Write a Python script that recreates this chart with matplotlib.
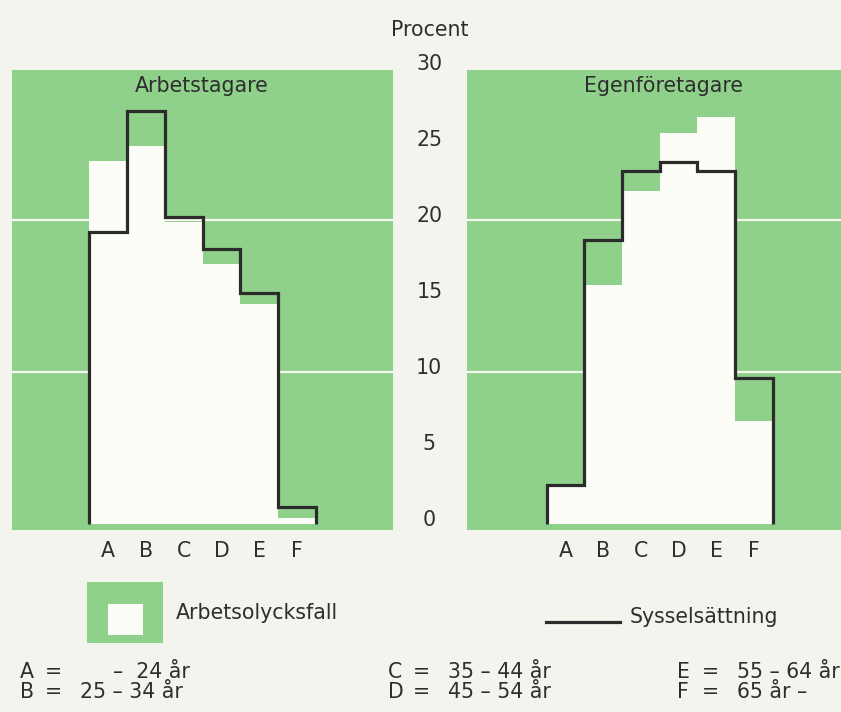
import matplotlib
matplotlib.use("Agg")
import matplotlib.pyplot as plt
import numpy as np
from matplotlib.patches import Rectangle
from matplotlib.lines import Line2D

categories = ["A", "B", "C", "D", "E", "F"]
# Arbetstagare
arb_syssel = [19.2, 27.2, 20.2, 18.1, 15.2, 1.1]     # Sysselsättning (line)
arb_olycks = [23.9, 24.9, 19.9, 17.1, 14.5, 0.4]     # Arbetsolycksfall (white area)
# Egenföretagare
egen_syssel = [2.6, 18.7, 23.2, 23.8, 23.2, 9.6]
egen_olycks = [2.5, 15.7, 21.9, 25.7, 26.8, 6.8]
yticks = [0, 5, 10, 15, 20, 25, 30]
key_rows = [("A", "–  24 år"), ("B", "25 – 34 år"), ("C", "35 – 44 år"),
            ("D", "45 – 54 år"), ("E", "55 – 64 år"), ("F", "65 år –")]

GREEN = "#8fd08a"
PAPER = "#f4f4ef"
WHITE = "#fdfdf8"
LINE = "#2b2b2b"
TXT = "#2e2e2e"
FS = 14.8

W, H = 841, 712
fig = plt.figure(figsize=(W / 100, H / 100), dpi=100, facecolor=PAPER)

def fx(px):
    return px / W

def fy(py):
    return 1 - py / H

ylim = (-0.39, 29.87)
edges = np.arange(len(categories) + 1)

def panel(left_px, right_px, xlim, syssel, olycks, title, title_x):
    ax = fig.add_axes([fx(left_px), fy(530), fx(right_px - left_px), (530 - 70) / H])
    ax.set_facecolor(GREEN)
    ax.set_xlim(*xlim)
    ax.set_ylim(*ylim)
    for g in (10, 20):
        ax.axhline(g, color="#f6f8f0", lw=1.6, zorder=1)
    ax.stairs(olycks, edges, baseline=0, fill=True, color=WHITE, lw=0, zorder=2)
    ax.stairs(syssel, edges, baseline=0, fill=False, color=LINE, lw=2.3, zorder=3)
    for s in ax.spines.values():
        s.set_visible(False)
    ax.set_yticks([])
    ax.set_xticks(edges[:-1] + 0.5)
    ax.set_xticklabels(categories, fontsize=FS, color=TXT)
    ax.tick_params(axis="x", length=0, pad=8)
    ax.text(title_x, fy(92), title, transform=fig.transFigure, ha="center",
            va="baseline", fontsize=FS, color=TXT)
    return ax

axl = panel(12, 393, (-2.045, 8.035), arb_syssel, arb_olycks, "Arbetstagare", fx(202))
axr = panel(467, 861, (-2.11, 8.34), egen_syssel, egen_olycks, "Egenföretagare", fx(664))

# central y axis labels
axc = fig.add_axes([fx(393), fy(530), fx(467 - 393), (530 - 70) / H])
axc.set_ylim(*ylim)
axc.set_xlim(0, 1)
axc.axis("off")
for v in yticks:
    axc.text(0.49, v + 0.25, str(v), ha="center", va="center", fontsize=FS, color=TXT)
fig.text(fx(430), fy(36), "Procent", ha="center", va="baseline", fontsize=FS, color=TXT)

# legend
fig.patches.append(Rectangle((fx(87), fy(643)), fx(163 - 87), (643 - 582) / H,
                             transform=fig.transFigure, facecolor=GREEN, edgecolor="none"))
fig.patches.append(Rectangle((fx(108), fy(635)), fx(143 - 108), (635 - 604) / H,
                             transform=fig.transFigure, facecolor=WHITE, edgecolor="none"))
fig.text(fx(176), fy(619), "Arbetsolycksfall", ha="left", va="baseline", fontsize=FS, color=TXT)
fig.lines.append(Line2D([fx(546), fx(620)], [fy(622), fy(622)], transform=fig.transFigure,
                        color=LINE, lw=2.3))
fig.text(fx(630), fy(623), "Sysselsättning", ha="left", va="baseline", fontsize=FS, color=TXT)

# key
col_x = [20, 388, 677]
row_y = [678, 698]
for i, (letter, rng) in enumerate(key_rows):
    cx = col_x[i // 2]
    ry = row_y[i % 2]
    fig.text(fx(cx), fy(ry), letter, ha="left", va="baseline", fontsize=FS, color=TXT)
    fig.text(fx(cx + 33), fy(ry), "=", ha="center", va="baseline", fontsize=FS, color=TXT)
    start = cx + 93 if rng.startswith("–") else cx + 60
    fig.text(fx(start), fy(ry), rng, ha="left", va="baseline", fontsize=FS, color=TXT)

fig.savefig("out.png", dpi=100, facecolor=PAPER)
